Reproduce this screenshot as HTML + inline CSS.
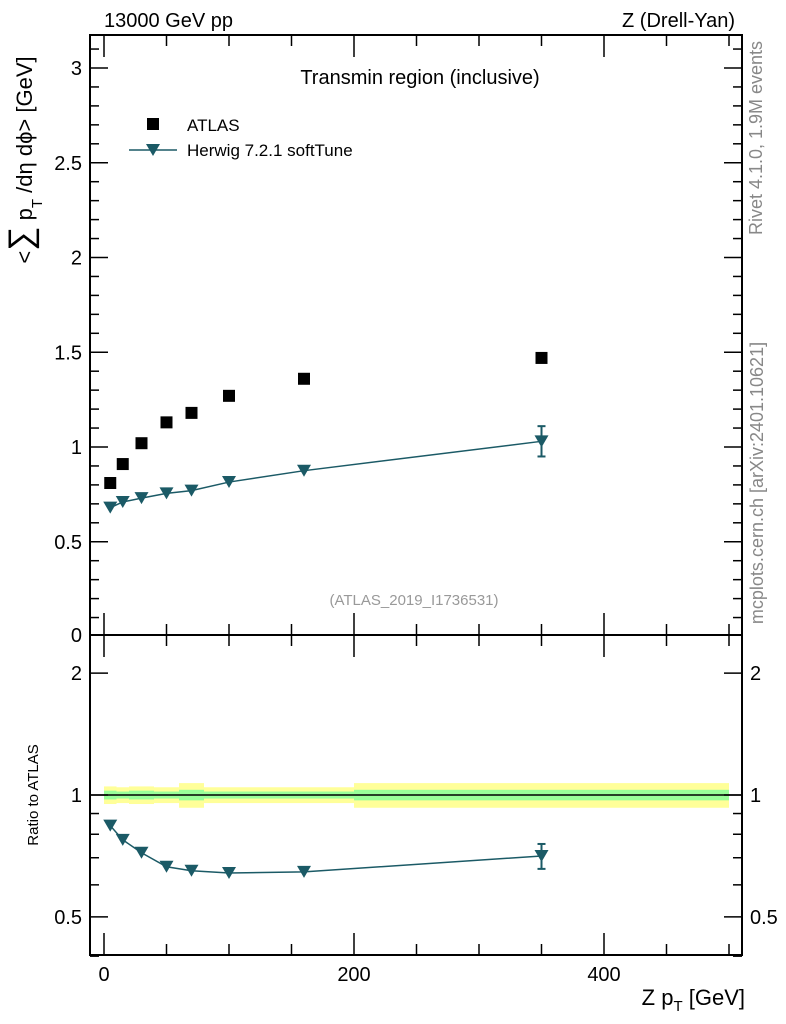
<!DOCTYPE html>
<html><head><meta charset="utf-8"><style>
body{margin:0;background:#fff;}
svg{display:block;font-family:"Liberation Sans",sans-serif;}
</style></head><body>
<svg id="c" width="786" height="1024" xmlns="http://www.w3.org/2000/svg"></svg>
<script>
const xs=[5,15,30,50,70,100,160,350];
const atlas=[0.81,0.91,1.02,1.13,1.18,1.27,1.36,1.47];
const herwig=[0.68,0.71,0.73,0.755,0.77,0.815,0.875,1.03];
const herwigErr=[0.01,0.01,0.01,0.01,0.01,0.015,0.015,0.08];
const ratio=[0.84,0.775,0.72,0.665,0.65,0.642,0.646,0.707];
const ratioErr=[0.01,0.01,0.01,0.01,0.01,0.01,0.01,0.05];
const binEdges=[0,10,20,40,60,80,120,200,500];
const bandY=[0.05,0.045,0.05,0.045,0.07,0.045,0.045,0.07];
const bandG=[0.025,0.02,0.025,0.02,0.03,0.02,0.02,0.03];
const mainTicks=[0.5,1,1.5,2,2.5,3];
const ratioTicks=[0.5,1,2];
const xTicks=[0,200,400];

const S=document.getElementById('c');const NS='http://www.w3.org/2000/svg';
function el(t,a,txt){const e=document.createElementNS(NS,t);for(const k in a)e.setAttribute(k,a[k]);if(txt!=null)e.textContent=txt;S.appendChild(e);return e;}
const L=90,R=742,T=35,M=635,B=955;
const X=v=>104+v*1.25;
const Y=v=>636.5-v*189.5;
const YR=v=>795-Math.log10(v)*405;
const C='#1b5a66';

for(let i=0;i<binEdges.length-1;i++){
  const r=el('rect',{x:X(binEdges[i]),y:YR(1+bandY[i]),width:X(binEdges[i+1])-X(binEdges[i]),height:YR(1-bandY[i])-YR(1+bandY[i]),fill:'#ffff99'});
  
  const g=el('rect',{x:X(binEdges[i]),y:YR(1+bandG[i]),width:X(binEdges[i+1])-X(binEdges[i]),height:YR(1-bandG[i])-YR(1+bandG[i]),fill:'#99ff99'});
  
}
el('line',{x1:L,x2:R,y1:YR(1),y2:YR(1),stroke:'#000','stroke-width':1.5});

el('rect',{x:L,y:T,width:R-L,height:M-T,fill:'none',stroke:'#000','stroke-width':2});
el('rect',{x:L,y:M,width:R-L,height:B-M,fill:'none',stroke:'#000','stroke-width':2});

for(let v=0;v<=3.2;v+=0.1){const y=Y(v);if(y<T||y>M)continue;const maj=Math.abs(v*2-Math.round(v*2))<1e-6;const l=maj?18:9;
  el('line',{x1:L,x2:L+l,y1:y,y2:y,stroke:'#000','stroke-width':1.5});el('line',{x1:R,x2:R-l,y1:y,y2:y,stroke:'#000','stroke-width':1.5});}
mainTicks.forEach(v=>{const t=el('text',{x:L-8,y:Y(v)+7,'text-anchor':'end','font-size':20},String(v));});
el('text',{x:L-8,y:642,'text-anchor':'end','font-size':20},'0');
const rt=[0.4,0.5,0.6,0.7,0.8,0.9,1,2];
rt.forEach(v=>{const y=YR(v);const maj=[0.5,1,2].includes(v);const l=maj?18:9;
  el('line',{x1:L,x2:L+l,y1:y,y2:y,stroke:'#000','stroke-width':1.5});el('line',{x1:R,x2:R-l,y1:y,y2:y,stroke:'#000','stroke-width':1.5});});
ratioTicks.forEach(v=>{const t=el('text',{x:L-8,y:YR(v)+7,'text-anchor':'end','font-size':20},String(v));
  el('text',{x:R+8,y:YR(v)+7,'font-size':20},String(v));});
for(let v=0;v<=500;v+=50){const x=X(v);const maj=v%200===0;const l=maj?22:11;
  [M,B].forEach(b=>el('line',{x1:x,x2:x,y1:b,y2:b-l,stroke:'#000','stroke-width':1.5}));
  el('line',{x1:x,x2:x,y1:T,y2:T+l,stroke:'#000','stroke-width':1.5});
  el('line',{x1:x,x2:x,y1:M,y2:M+l,stroke:'#000','stroke-width':1.5});}
xTicks.forEach(v=>{const t=el('text',{x:X(v),y:981,'text-anchor':'middle','font-size':20},String(v));});

el('polyline',{points:xs.map((x,i)=>X(x)+','+Y(herwig[i])).join(' '),fill:'none',stroke:C,'stroke-width':1.5});
function tri(x,y,name){const p=el('polygon',{points:`${x-7},${y-6} ${x+7},${y-6} ${x},${y+6}`,fill:C});}
function err(x,y1,y2){el('line',{x1:x,x2:x,y1:y1,y2:y2,stroke:C,'stroke-width':2});[y1,y2].forEach(y=>el('line',{x1:x-4,x2:x+4,y1:y,y2:y,stroke:C,'stroke-width':2}));}
xs.forEach((x,i)=>{if(herwigErr[i]>0.03)err(X(x),Y(herwig[i]+herwigErr[i]),Y(herwig[i]-herwigErr[i]));tri(X(x),Y(herwig[i]),'herwig-point');});
xs.forEach((x,i)=>{const r=el('rect',{x:X(x)-6,y:Y(atlas[i])-6,width:12,height:12,fill:'#000'});});
el('polyline',{points:xs.map((x,i)=>X(x)+','+YR(ratio[i])).join(' '),fill:'none',stroke:C,'stroke-width':1.5});
xs.forEach((x,i)=>{if(ratioErr[i]>0.03)err(X(x),YR(ratio[i]+ratioErr[i]),YR(ratio[i]-ratioErr[i]));tri(X(x),YR(ratio[i]),'ratio-point');});

function tx(x,y,s,a,name){const t=el('text',Object.assign({x:x,y:y,'font-size':20},a||{}),s);return t;}
tx(104,27,'13000 GeV pp',{},'energy-label');
tx(735,27,'Z (Drell-Yan)',{'text-anchor':'end'},'process-label');
tx(420,84,'Transmin region (inclusive)',{'text-anchor':'middle'},'plot-title');
el('rect',{x:147,y:118,width:12,height:12,fill:'#000'});
tx(187,131,'ATLAS',{'font-size':17},'legend-atlas');
el('line',{x1:129,x2:177,y1:150,y2:150,stroke:C,'stroke-width':1.5});
tri(153,150,'legend-herwig-marker');
tx(187,156,'Herwig 7.2.1 softTune',{'font-size':17},'legend-herwig');
tx(414,605,'(ATLAS_2019_I1736531)',{'text-anchor':'middle','font-size':15,fill:'#999'},'analysis-id');
tx(745,1005,'Z p',{'text-anchor':'end','font-size':22},'x-axis-title').innerHTML='Z p<tspan font-size="15" dy="6">T</tspan><tspan dy="-6"> [GeV]</tspan>';
const yt=tx(0,0,'',{transform:'translate(32,160) rotate(-90)','text-anchor':'middle','font-size':22},'y-axis-title');
yt.innerHTML='&lt;<tspan font-size="34">∑</tspan> p<tspan font-size="15" dy="10">T</tspan><tspan dy="-10"> /dη dϕ&gt; [GeV]</tspan>';
tx(0,0,'Ratio to ATLAS',{transform:'translate(38,795) rotate(-90)','text-anchor':'middle','font-size':15},'ratio-axis-title');
tx(0,0,'Rivet 4.1.0,  1.9M events',{transform:'translate(762,138) rotate(-90)','text-anchor':'middle','font-size':18,fill:'#888'},'rivet-label');
tx(0,0,'mcplots.cern.ch [arXiv:2401.10621]',{transform:'translate(763,483) rotate(-90)','text-anchor':'middle','font-size':18,fill:'#888'},'mcplots-label');
</script>
</body></html>
